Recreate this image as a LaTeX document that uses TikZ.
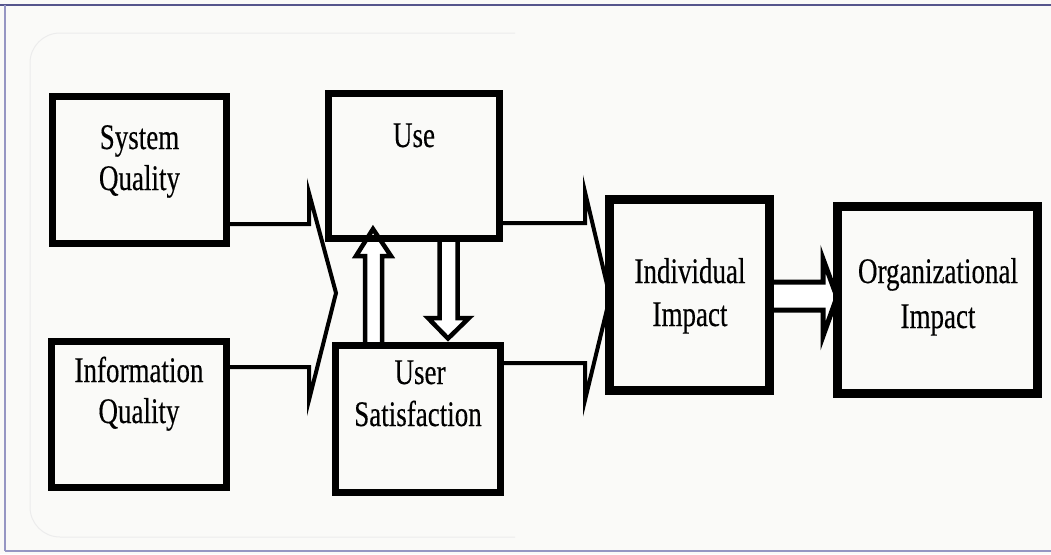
\documentclass[tikz,border=0pt]{standalone}
\usepackage{fontspec}
\setmainfont{Liberation Serif}
\newfontfamily\labelfont[FakeStretch=0.75,FakeBold=0.3]{Liberation Serif}
\definecolor{paper}{RGB}{250,250,248}
\definecolor{frametop}{RGB}{85,85,140}
\definecolor{frameside}{RGB}{150,150,195}
\definecolor{ghost}{RGB}{236,236,236}
\pgfdeclarelayer{bg}
\pgfsetlayers{bg,main}
\begin{document}
\begin{tikzpicture}[x=1pt,y=-1pt,
  box/.style={draw=black, line width=7pt, inner sep=0pt},
  bigbox/.style={box, line width=9pt},
  lbl/.style={font=\labelfont\fontsize{36}{40}\selectfont, anchor=base, inner sep=0pt},
  chevron/.style={draw=black, line width=4pt, line join=miter, miter limit=12},
  hollow/.style={draw=black, fill=white, line width=4.5pt, line join=miter, miter limit=12}
]
\useasboundingbox (0,0) rectangle (1051,554);

% quality, use and satisfaction boxes
\node[box, minimum width=174pt, minimum height=147pt] (sq) at (139.5,170) {};
\node[box, minimum width=171pt, minimum height=145pt] (use) at (414,166) {};
\node[box, minimum width=175pt, minimum height=146pt] (iq) at (139,414.5) {};
\node[box, minimum width=165pt, minimum height=147pt] (us) at (418,419) {};
% impact boxes
\node[bigbox, minimum width=160pt, minimum height=191pt] (ii) at (689.5,295) {};
\node[bigbox, minimum width=200pt, minimum height=187pt] (oi) at (937.5,300) {};

% box labels
\node[lbl] (sq1) at (139.5,149) {System};
\node[lbl] (sq2) at (139.5,190) {Quality};
\node[lbl] (use1) at (414,147) {Use};
\node[lbl] (iq1) at (139,382) {Information};
\node[lbl] (iq2) at (139,423) {Quality};
\node[lbl] (us1) at (420,384) {User};
\node[lbl] (us2) at (418,426) {Satisfaction};
\node[lbl] (ii1) at (690,283) {Individual};
\node[lbl] (ii2) at (690,326) {Impact};
\node[lbl] (oi1) at (938,283) {Organizational};
\node[lbl] (oi2) at (938,328) {Impact};

% bend points of the connectors
\coordinate (a1) at (309,224);  \coordinate (a2) at (309,193);
\coordinate (tip1) at (336,293);
\coordinate (a3) at (309,400);  \coordinate (a4) at (309,367);
\coordinate (b1) at (585,223);  \coordinate (b2) at (585,192);
\coordinate (tip2) at (610,297);
\coordinate (b3) at (585,400);  \coordinate (b4) at (585,363);
\coordinate (u1) at (365,256);  \coordinate (u2) at (356,256);
\coordinate (utip) at (373,229);
\coordinate (u3) at (391,256);  \coordinate (u4) at (382,256);
\coordinate (d1) at (439.5,318); \coordinate (d2) at (428,318);
\coordinate (dtip) at (448,338.5);
\coordinate (d3) at (469,318);  \coordinate (d4) at (457.5,318);
\coordinate (r1) at (823,282);  \coordinate (r2) at (823,259);
\coordinate (rtip) at (837,297);
\coordinate (r3) at (823,336);  \coordinate (r4) at (823,310);

\begin{pgfonlayer}{bg}
  \fill[paper] (0,0) rectangle (1051,554);
  \draw[ghost, line width=1pt, rounded corners=30pt] (515,33) -- (30,33) -- (30,537) -- (515,537);
  % page frame
  \draw[frametop, line width=2.5pt] (0,5) -- (1051,5);
  \draw[frameside, line width=2pt] (5,5) -- (5,551);
  \draw[frameside, line width=2.5pt] (5,551) -- (1051,551);

  % the two qualities feed use and satisfaction
  \draw[chevron] (sq.east |- a1) -- (a1) -- (a2) -- (tip1) -- (a3) -- (a4) -- (iq.east |- a4);
  % use and satisfaction feed individual impact
  \draw[chevron] (use.east |- b1) -- (b1) -- (b2) -- (tip2) -- (b3) -- (b4) -- (us.east |- b4);
  % use <-> user satisfaction
  \draw[hollow] (us.north -| u1) -- (u1) -- (u2) -- (utip) -- (u3) -- (u4) -- (us.north -| u4);
  \draw[hollow] (use.south -| d1) -- (d1) -- (d2) -- (dtip) -- (d3) -- (d4) -- (use.south -| d4);
  % individual -> organizational impact
  \draw[hollow, line width=5pt] (ii.east |- r1) -- (r1) -- (r2) -- (rtip) -- (r3) -- (r4) -- (ii.east |- r4);
\end{pgfonlayer}
\end{tikzpicture}
\end{document}
